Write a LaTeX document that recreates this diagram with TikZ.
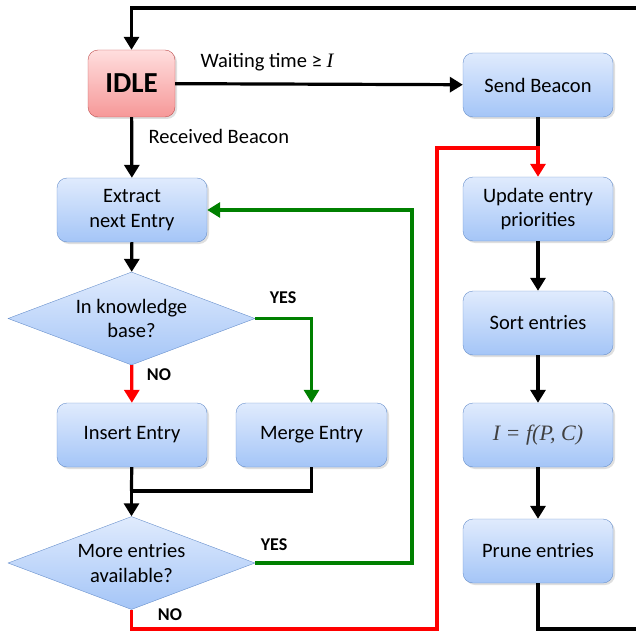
\documentclass[tikz,border=0pt]{standalone}
\usepackage{fontspec}
\setmainfont{Carlito}
\newfontfamily\serifmath{Liberation Serif}
\usetikzlibrary{arrows.meta, shapes.geometric, shadows}
\definecolor{boxTop}{RGB}{224, 235, 253}
\definecolor{boxBot}{RGB}{164, 197, 247}
\definecolor{boxLine}{RGB}{104, 144, 204}
\definecolor{idleTop}{RGB}{255, 222, 222}
\definecolor{idleBot}{RGB}{246, 152, 152}
\definecolor{idleLine}{RGB}{192, 80, 80}
\definecolor{yesGreen}{RGB}{0, 128, 0}
\definecolor{noRed}{RGB}{255, 0, 0}

\begin{document}
\begin{tikzpicture}[x=1pt, y=-1pt,
    every node/.style={font=\fontsize{20.5}{24.5}\selectfont},
    procbox/.style={draw=boxLine, rounded corners=10pt, top color=boxTop, bottom color=boxBot,
        minimum width=150pt, minimum height=64pt, inner sep=0pt, align=center,
        drop shadow={opacity=0.25, shadow xshift=2pt, shadow yshift=-2pt}},
    decbox/.style={diamond, aspect=2.66, draw=boxLine, top color=boxTop, bottom color=boxBot,
        minimum width=247pt, minimum height=93pt, inner sep=0pt, align=center},
    answer/.style={font=\fontsize{18}{21}\selectfont\bfseries},
    flow/.style={line width=3.2pt, -{Triangle[length=13pt, width=15pt]}},
    plain/.style={line width=3.2pt}]
    \useasboundingbox (0,0) rectangle (636,631);

    % nodes
    \node[procbox, draw=idleLine, top color=idleTop, bottom color=idleBot, minimum width=87pt,
        minimum height=67pt, font=\fontsize{29}{31}\selectfont\bfseries] (idle) at (131.5,83.5) {IDLE};
    \node[procbox] (extract) at (132,210) {Extract\\next Entry};
    \node[decbox] (known) at (131.5,318.5) {In knowledge\\base?};
    \node[procbox] (insert) at (132,435) {Insert Entry};
    \node[procbox, minimum width=151pt] (merge) at (311.5,435) {Merge Entry};
    \node[decbox] (more) at (131.5,563) {More entries\\available?};

    \node[procbox] (beacon) at (538,85) {Send Beacon};
    \node[procbox] (update) at (538,209) {Update entry\\priorities};
    \node[procbox] (sort) at (538,323) {Sort entries};
    \node[procbox, font=\fontsize{22}{25}\serifmath\itshape\color{black!75}] (interval) at (538,435) {I = f(P, C)};
    \node[procbox] (prune) at (538,551) {Prune entries};

    % labels
    \node[anchor=west] (waitlbl) at (197,62) {Waiting time ≥ {\serifmath\itshape I}};
    \node[anchor=west] (recvlbl) at (145,136) {Received Beacon};
    \node[answer] (yes1) at (283,298) {YES};
    \node[answer] (no1) at (159,375) {NO};
    \node[answer] (yes2) at (274,545) {YES};
    \node[answer] (no2) at (170,615) {NO};

    % loop back runs off the right edge
    \coordinate (topleft) at (131.5,8);
    \coordinate (topright) at (646,8);
    \coordinate (botright) at (646,629);
    \coordinate (join) at (131.5,491);
    \coordinate (redup) at (437,629);
    \coordinate (redtop) at (437,148);

    % left column
    \draw[flow] (idle) -- (beacon);
    \draw[flow] (idle) -- (extract);
    \draw[flow] (extract) -- (known);
    \draw[flow, noRed] (known) -- (insert);
    \draw[flow, yesGreen] (known.east) -| (merge);
    \draw[plain] (insert) -- (join);
    \draw[plain] (merge) |- (join);
    \draw[flow] (join) -- (more);
    \draw[flow, yesGreen] (more.east) -- (412,563) |- (extract.east);
    \draw[plain, noRed] (more.south) |- (redup) -- (redtop) -| (538,150);

    % right column
    \draw[plain] (beacon) -- (538,149.5);
    \draw[flow, noRed] (538,146.5) -- (update);
    \draw[flow] (update) -- (sort);
    \draw[flow] (sort) -- (interval);
    \draw[flow] (interval) -- (prune);
    \draw[flow] (prune.south) |- (botright) -- (topright) -- (topleft) -- (idle);
\end{tikzpicture}
\end{document}
